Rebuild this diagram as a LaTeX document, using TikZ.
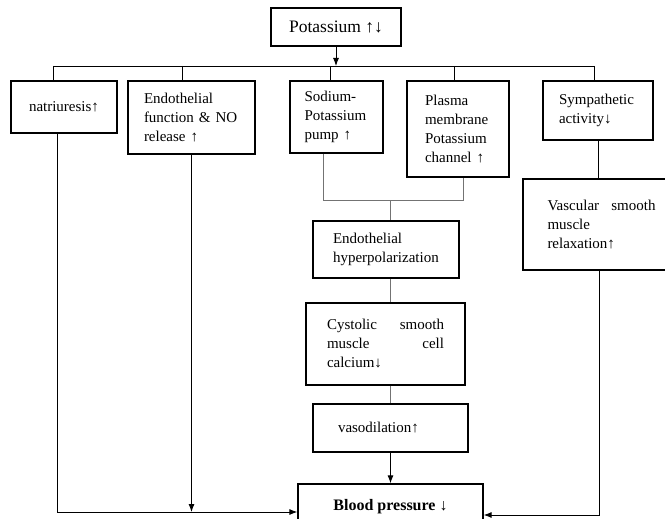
\documentclass[tikz,border=0pt]{standalone}
\usepackage{fontspec}
\setmainfont{Liberation Serif}
\usetikzlibrary{arrows.meta,positioning,calc}

\tikzset{
  blk/.style={draw, line width=1.3pt, inner sep=0pt, align=left, font=\fontsize{15}{19}\selectfont},
  lnk/.style={line width=0.9pt},
  faint/.style={line width=0.6pt, black!55},
  arr/.style={line width=0.9pt, -{Latex[length=8pt,width=6pt]}},
}

\begin{document}
\begin{tikzpicture}[x=1pt, y=-1pt]
    \useasboundingbox (0,0) rectangle (665,519);
    \clip (0,0) rectangle (665,519);

    % Potassium
    \node[blk, minimum width=130pt, minimum height=38pt, font=\fontsize{17.5}{21}\selectfont] (pot) at (336,27) {Potassium ↑↓};

    % First row
    \node[blk, minimum width=106pt, minimum height=52pt, text width=70pt] (nat) at (64,107) {natriuresis↑};
    \node[blk, minimum width=127pt, minimum height=73pt, text width=95pt] (efn) at (191.5,117.5) {Endothelial\\function \& NO\\release ↑};
    \node[blk, minimum width=93pt, minimum height=72pt, text width=64pt] (nak) at (336.5,117) {Sodium-\\Potassium\\pump ↑};
    \node[blk, minimum width=102pt, minimum height=96pt, text width=66pt] (pmc) at (458,129) {Plasma\\membrane\\Potassium\\channel ↑};
    \node[blk, minimum width=110pt, minimum height=59pt, text width=78pt] (sym) at (598,110.5) {Sympathetic\\activity↓};

    % Middle chain
    \node[blk, minimum width=157pt, minimum height=91pt, text width=108pt] (vsm) at (601.5,224.5) {Vascular \hfill smooth\\muscle\\relaxation↑};
    \node[blk, minimum width=146pt, minimum height=57pt, text width=106pt] (hyp) at (386,249.5) {Endothelial\\hyperpolarization};
    \node[blk, minimum width=159pt, minimum height=82pt, text width=117pt] (cys) at (385.5,344) {Cystolic \hfill smooth\\muscle \hfill cell\\calcium↓};
    \node[blk, minimum width=155pt, minimum height=48pt, text width=105pt] (vas) at (390.5,428) {vasodilation↑};

    % Blood pressure
    \node[blk, minimum width=185pt, minimum height=46pt, align=center, font=\fontsize{16}{19}\selectfont\bfseries] (bp) at (390.5,507) {Blood pressure ↓};

    % Bus from potassium
    \coordinate (busL) at (53,66);
    \coordinate (busR) at (594,66);
    \draw[arr] (pot) -- (pot.south |- busL);
    \draw[lnk] (busL) -- (busR);
    \foreach \t/\b in {53/nat, 182/efn, 330/nak, 454/pmc, 594/sym} {
        \draw[lnk] (\t,66) -- (\t,66 |- \b.north);
    }

    % Pump and channel join
    \coordinate (jn) at (390,200);
    \draw[faint] ([xshift=-13pt]nak.south) |- ([xshift=5pt]pmc.south |- jn) -- ([xshift=5pt]pmc.south);
    \draw[faint] (jn) -- (hyp.north -| jn);
    \draw[faint] (hyp.south -| jn) -- (cys.north -| jn);
    \draw[faint] (cys.south -| jn) -- (vas.north -| jn);
    \draw[arr] (vas) -- (bp);
    \draw[lnk] (sym) -- (sym.south |- vsm.north);

    % Into blood pressure
    \coordinate (cL) at (57,512);
    \coordinate (cR) at (599,515);
    \draw[arr] (nat.south -| cL) -- (cL) -- (cL -| bp.west);
    \draw[arr] (efn.south) -- (efn.south |- cL);
    \draw[arr] (vsm.south -| cR) -- (cR) -- (cR -| bp.east);
\end{tikzpicture}
\end{document}
